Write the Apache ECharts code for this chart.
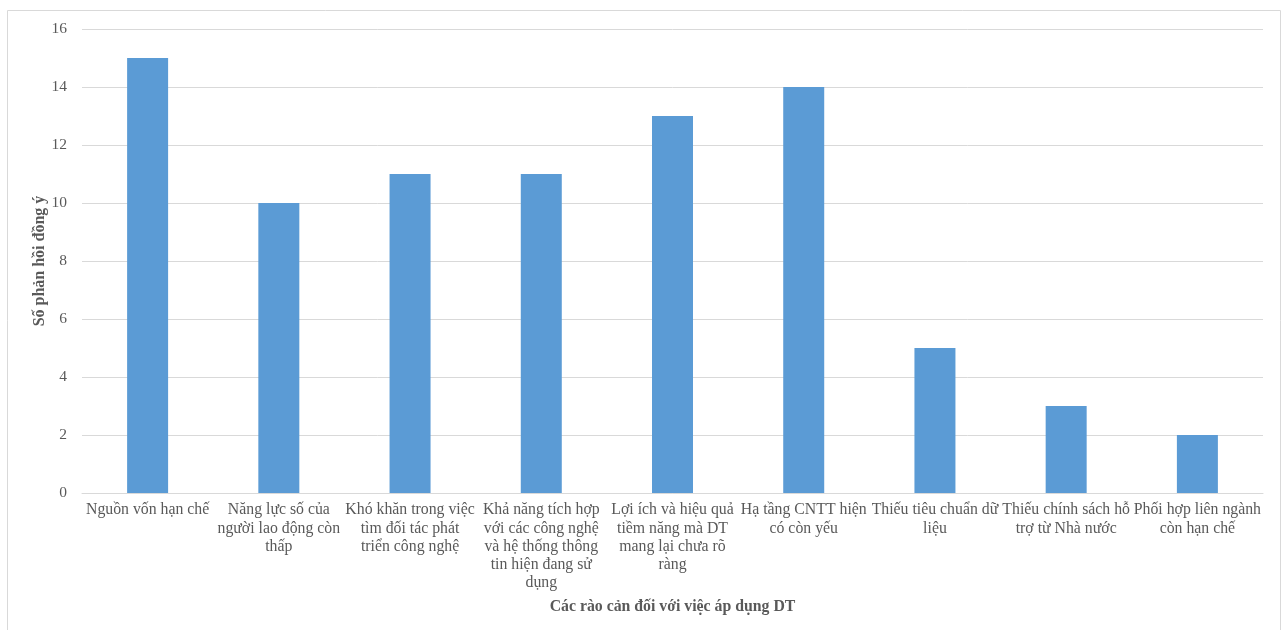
<!DOCTYPE html>
<html><head><meta charset="utf-8">
<script src="https://cdn.jsdelivr.net/npm/echarts@6/dist/echarts.min.js"></script>
<style>html,body{margin:0;padding:0;background:#fff}#c{width:1283px;height:630px}</style>
</head><body><div id="c"></div>
<script>
var categories = [
  "Nguồn vốn hạn chế",
  "Năng lực số của\nngười lao động còn\nthấp",
  "Khó khăn trong việc\ntìm đối tác phát\ntriển công nghệ",
  "Khả năng tích hợp\nvới các công nghệ\nvà hệ thống thông\ntin hiện đang sử\ndụng",
  "Lợi ích và hiệu quả\ntiềm năng mà DT\nmang lại chưa rõ\nràng",
  "Hạ tầng CNTT hiện\ncó còn yếu",
  "Thiếu tiêu chuẩn dữ\nliệu",
  "Thiếu chính sách hỗ\ntrợ từ Nhà nước",
  "Phối hợp liên ngành\ncòn hạn chế"
];
var values = [15, 10, 11, 11, 13, 14, 5, 3, 2];
var yTicks = [0, 2, 4, 6, 8, 10, 12, 14, 16];
var xTitle = "Các rào cản đối với việc áp dụng DT";
var yTitle = "Số phản hồi đồng ý";

var font = "'Liberation Serif', serif";
var chart = echarts.init(document.getElementById('c'), null, {renderer: 'canvas'});
chart.setOption({
  animation: false,
  graphic: [
    {type: 'rect', shape: {x: 7.5, y: 10.5, width: 1273, height: 660}, style: {fill: 'none', stroke: '#d9d9d9', lineWidth: 1}, silent: true},
    {type: 'text', x: 40, y: 261, rotation: Math.PI / 2, silent: true,
     style: {text: yTitle, fill: '#595959', font: "bold 16px 'Liberation Serif', serif", align: 'center', verticalAlign: 'middle'}}
  ],
  grid: {left: 82, right: 20, top: 29, bottom: 137},
  xAxis: {
    type: 'category', data: categories,
    axisLine: {lineStyle: {color: '#d9d9d9'}},
    axisTick: {show: false},
    axisLabel: {interval: 0, color: '#595959', fontFamily: font, fontSize: 15.8, lineHeight: 18.3, margin: 8},
    name: xTitle, nameLocation: 'middle', nameGap: 106,
    nameTextStyle: {color: '#595959', fontFamily: font, fontSize: 15.8, fontWeight: 'bold'}
  },
  yAxis: {
    type: 'value', min: yTicks[0], max: yTicks[yTicks.length - 1], interval: 2,
    axisLine: {show: false}, axisTick: {show: false},
    splitLine: {lineStyle: {color: '#d9d9d9'}},
    axisLabel: {color: '#595959', fontFamily: font, fontSize: 15.5, margin: 15}
  },
  series: [{type: 'bar', data: values, barWidth: 41, itemStyle: {color: '#5b9bd5'}}]
});
</script></body></html>
